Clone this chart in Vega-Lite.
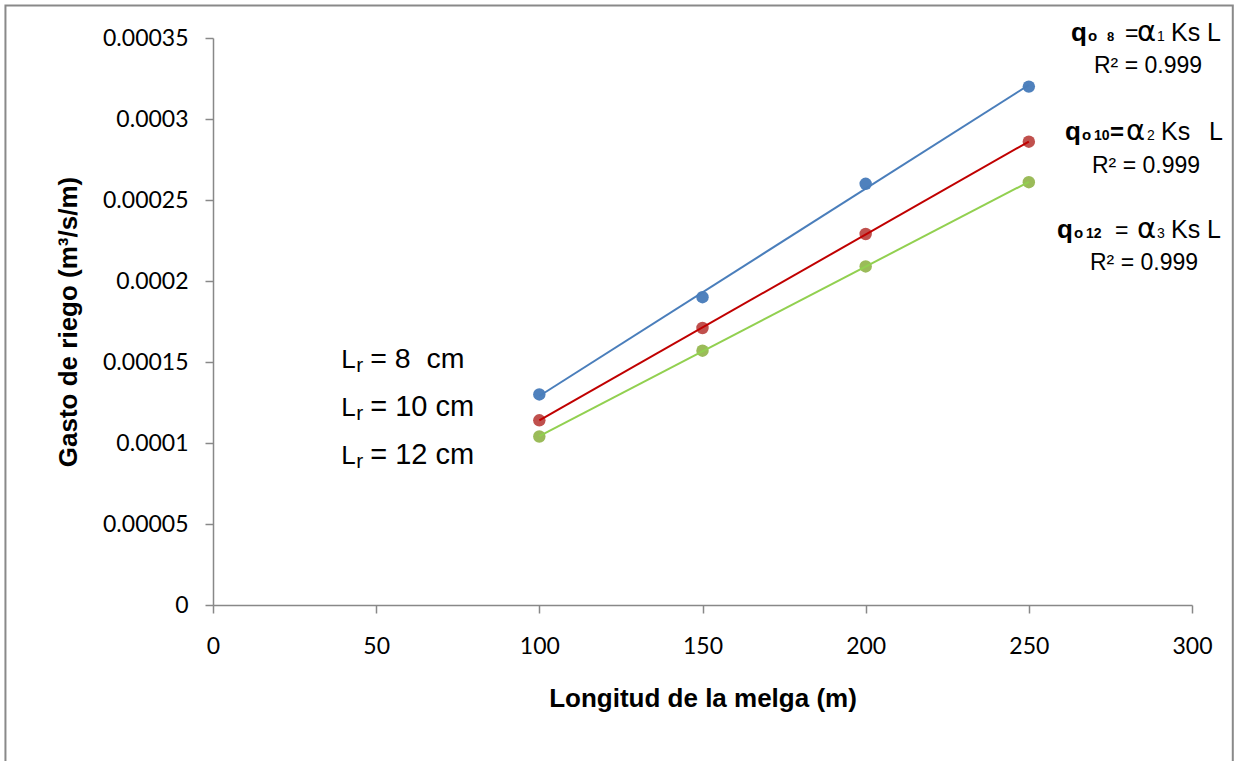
{
  "$schema": "https://vega.github.io/schema/vega-lite/v6.json",
  "width": 979,
  "height": 567,
  "autosize": "none",
  "padding": {"left": 213, "top": 38, "right": 43, "bottom": 156},
  "background": "white",
  "config": {
    "view": {"stroke": null},
    "axis": {
      "grid": false,
      "domainColor": "#888888",
      "domainWidth": 1.5,
      "tickColor": "#888888",
      "tickWidth": 1.5,
      "tickSize": 8,
      "labelFont": "Lato",
      "labelFontSize": 23,
      "labelColor": "#000000",
      "labelFlush": false,
      "labelBound": false,
      "labelOverlap": false,
      "titleFont": "Liberation Sans",
      "titleFontSize": 26,
      "titleFontWeight": "bold",
      "titleColor": "#000000",
      "titleBaseline": "alphabetic"
    }
  },
  "datasets": {
    "obs": [
      {"lr": "8", "longitud": 100, "gasto": 0.00013},
      {"lr": "8", "longitud": 150, "gasto": 0.00019},
      {"lr": "8", "longitud": 200, "gasto": 0.00026},
      {"lr": "8", "longitud": 250, "gasto": 0.00032},
      {"lr": "10", "longitud": 100, "gasto": 0.000114},
      {"lr": "10", "longitud": 150, "gasto": 0.000171},
      {"lr": "10", "longitud": 200, "gasto": 0.000229},
      {"lr": "10", "longitud": 250, "gasto": 0.000286},
      {"lr": "12", "longitud": 100, "gasto": 0.000104},
      {"lr": "12", "longitud": 150, "gasto": 0.000157},
      {"lr": "12", "longitud": 200, "gasto": 0.000209},
      {"lr": "12", "longitud": 250, "gasto": 0.000261}
    ]
  },
  "layer": [
    {
      "data": {"values": [{"box": "chart area"}]},
      "mark": {"type": "rect", "filled": false, "color": "#898989", "strokeWidth": 2},
      "encoding": {
        "x": {"datum": -63.6, "type": "quantitative"},
        "x2": {"datum": 312.5},
        "y": {"datum": 0.00037, "type": "quantitative"},
        "y2": {"datum": -0.0001}
      }
    },
    {
      "data": {"name": "obs"},
      "mark": {"type": "circle", "size": 155, "opacity": 1},
      "encoding": {
        "x": {"field": "longitud", "type": "quantitative",
          "scale": {"domain": [0, 300], "nice": false, "zero": false},
          "axis": {"values": [0, 50, 100, 150, 200, 250, 300], "title": "Longitud de la melga (m)",
            "labelPadding": 22, "titleX": 489.5, "titleY": 101.5}},
        "y": {"field": "gasto", "type": "quantitative",
          "scale": {"domain": [0, 0.00035], "nice": false, "zero": false},
          "axis": {"values": [0, 0.00005, 0.0001, 0.00015, 0.0002, 0.00025, 0.0003, 0.00035], "format": "~g",
            "title": "Gasto de riego (m³/s/m)", "labelPadding": 17, "titleAngle": -90, "titleX": -137, "titleY": 283.5}},
        "color": {"field": "lr", "type": "nominal",
          "scale": {"domain": ["8", "10", "12"], "range": ["#4F81BD", "#C0504D", "#9BBB59"]}, "legend": null}
      }
    },
    {
      "data": {"name": "obs"},
      "transform": [{"regression": "gasto", "on": "longitud", "groupby": ["lr"]}],
      "mark": {"type": "line", "strokeWidth": 2},
      "encoding": {
        "x": {"field": "longitud", "type": "quantitative"},
        "y": {"field": "gasto", "type": "quantitative"},
        "color": {"field": "lr", "type": "nominal",
          "scale": {"domain": ["8", "10", "12"], "range": ["#4A7EBB", "#C00000", "#92D050"]}, "legend": null}
      }
    },
    {
      "data": {"values": [{"t": "L"}]},
      "mark": {"type": "text", "align": "left", "baseline": "alphabetic", "font": "Liberation Sans", "fontSize": 26, "color": "#000", "dx": -35, "dy": 6},
      "encoding": {"x": {"datum": 50, "type": "quantitative"}, "y": {"datum": 0.00015, "type": "quantitative"}, "text": {"field": "t"}}
    },
    {
      "data": {"values": [{"t": "r"}]},
      "mark": {"type": "text", "align": "left", "baseline": "alphabetic", "font": "Liberation Sans", "fontSize": 21, "color": "#000", "dx": -20, "dy": 10},
      "encoding": {"x": {"datum": 50, "type": "quantitative"}, "y": {"datum": 0.00015, "type": "quantitative"}, "text": {"field": "t"}}
    },
    {
      "data": {"values": [{"t": "= 8\u00a0\u00a0cm"}]},
      "mark": {"type": "text", "align": "left", "baseline": "alphabetic", "font": "Liberation Sans", "fontSize": 28.5, "color": "#000", "dx": -6, "dy": 6},
      "encoding": {"x": {"datum": 50, "type": "quantitative"}, "y": {"datum": 0.00015, "type": "quantitative"}, "text": {"field": "t"}}
    },
    {
      "data": {"values": [{"t": "L"}]},
      "mark": {"type": "text", "align": "left", "baseline": "alphabetic", "font": "Liberation Sans", "fontSize": 26, "color": "#000", "dx": -35, "dy": 54},
      "encoding": {"x": {"datum": 50, "type": "quantitative"}, "y": {"datum": 0.00015, "type": "quantitative"}, "text": {"field": "t"}}
    },
    {
      "data": {"values": [{"t": "r"}]},
      "mark": {"type": "text", "align": "left", "baseline": "alphabetic", "font": "Liberation Sans", "fontSize": 21, "color": "#000", "dx": -20, "dy": 58},
      "encoding": {"x": {"datum": 50, "type": "quantitative"}, "y": {"datum": 0.00015, "type": "quantitative"}, "text": {"field": "t"}}
    },
    {
      "data": {"values": [{"t": "= 10 cm"}]},
      "mark": {"type": "text", "align": "left", "baseline": "alphabetic", "font": "Liberation Sans", "fontSize": 29, "color": "#000", "dx": -6, "dy": 54},
      "encoding": {"x": {"datum": 50, "type": "quantitative"}, "y": {"datum": 0.00015, "type": "quantitative"}, "text": {"field": "t"}}
    },
    {
      "data": {"values": [{"t": "L"}]},
      "mark": {"type": "text", "align": "left", "baseline": "alphabetic", "font": "Liberation Sans", "fontSize": 26, "color": "#000", "dx": -35, "dy": 102},
      "encoding": {"x": {"datum": 50, "type": "quantitative"}, "y": {"datum": 0.00015, "type": "quantitative"}, "text": {"field": "t"}}
    },
    {
      "data": {"values": [{"t": "r"}]},
      "mark": {"type": "text", "align": "left", "baseline": "alphabetic", "font": "Liberation Sans", "fontSize": 21, "color": "#000", "dx": -20, "dy": 106},
      "encoding": {"x": {"datum": 50, "type": "quantitative"}, "y": {"datum": 0.00015, "type": "quantitative"}, "text": {"field": "t"}}
    },
    {
      "data": {"values": [{"t": "= 12 cm"}]},
      "mark": {"type": "text", "align": "left", "baseline": "alphabetic", "font": "Liberation Sans", "fontSize": 29, "color": "#000", "dx": -6, "dy": 102},
      "encoding": {"x": {"datum": 50, "type": "quantitative"}, "y": {"datum": 0.00015, "type": "quantitative"}, "text": {"field": "t"}}
    },

    {"data": {"values": [{"t": "q"}]}, "mark": {"type": "text", "align": "left", "baseline": "alphabetic", "font": "Liberation Sans", "fontSize": 26, "fontWeight": "bold", "color": "#000", "dx": -121, "dy": 3}, "encoding": {"x": {"datum": 300, "type": "quantitative"}, "y": {"datum": 0.00035, "type": "quantitative"}, "text": {"field": "t"}}},
    {"data": {"values": [{"t": "o"}]}, "mark": {"type": "text", "align": "left", "baseline": "alphabetic", "font": "Liberation Sans", "fontSize": 15, "fontWeight": "bold", "color": "#000", "dx": -104, "dy": 3}, "encoding": {"x": {"datum": 300, "type": "quantitative"}, "y": {"datum": 0.00035, "type": "quantitative"}, "text": {"field": "t"}}},
    {"data": {"values": [{"t": "8"}]}, "mark": {"type": "text", "align": "left", "baseline": "alphabetic", "font": "Liberation Sans", "fontSize": 13, "fontWeight": "bold", "color": "#000", "dx": -85, "dy": 3}, "encoding": {"x": {"datum": 300, "type": "quantitative"}, "y": {"datum": 0.00035, "type": "quantitative"}, "text": {"field": "t"}}},
    {"data": {"values": [{"t": "="}]}, "mark": {"type": "text", "align": "left", "baseline": "alphabetic", "font": "Liberation Sans", "fontSize": 23, "color": "#000", "dx": -67, "dy": 3}, "encoding": {"x": {"datum": 300, "type": "quantitative"}, "y": {"datum": 0.00035, "type": "quantitative"}, "text": {"field": "t"}}},
    {"data": {"values": [{"t": "α"}]}, "mark": {"type": "text", "align": "left", "baseline": "alphabetic", "font": "DejaVu Sans", "fontSize": 29, "color": "#000", "dx": -55, "dy": 3}, "encoding": {"x": {"datum": 300, "type": "quantitative"}, "y": {"datum": 0.00035, "type": "quantitative"}, "text": {"field": "t"}}},
    {"data": {"values": [{"t": "1"}]}, "mark": {"type": "text", "align": "left", "baseline": "alphabetic", "font": "Liberation Sans", "fontSize": 14, "color": "#000", "dx": -35, "dy": 3}, "encoding": {"x": {"datum": 300, "type": "quantitative"}, "y": {"datum": 0.00035, "type": "quantitative"}, "text": {"field": "t"}}},
    {"data": {"values": [{"t": "Ks L"}]}, "mark": {"type": "text", "align": "left", "baseline": "alphabetic", "font": "Liberation Sans", "fontSize": 25, "color": "#000", "dx": -21, "dy": 3}, "encoding": {"x": {"datum": 300, "type": "quantitative"}, "y": {"datum": 0.00035, "type": "quantitative"}, "text": {"field": "t"}}},
    {"data": {"values": [{"t": "R² = 0.999"}]}, "mark": {"type": "text", "align": "center", "baseline": "alphabetic", "font": "Liberation Sans", "fontSize": 23, "color": "#000", "dx": -44, "dy": 35}, "encoding": {"x": {"datum": 300, "type": "quantitative"}, "y": {"datum": 0.00035, "type": "quantitative"}, "text": {"field": "t"}}},

    {"data": {"values": [{"t": "q"}]}, "mark": {"type": "text", "align": "left", "baseline": "alphabetic", "font": "Liberation Sans", "fontSize": 26, "fontWeight": "bold", "color": "#000", "dx": -127, "dy": 102}, "encoding": {"x": {"datum": 300, "type": "quantitative"}, "y": {"datum": 0.00035, "type": "quantitative"}, "text": {"field": "t"}}},
    {"data": {"values": [{"t": "o"}]}, "mark": {"type": "text", "align": "left", "baseline": "alphabetic", "font": "Liberation Sans", "fontSize": 15, "fontWeight": "bold", "color": "#000", "dx": -110, "dy": 102}, "encoding": {"x": {"datum": 300, "type": "quantitative"}, "y": {"datum": 0.00035, "type": "quantitative"}, "text": {"field": "t"}}},
    {"data": {"values": [{"t": "10"}]}, "mark": {"type": "text", "align": "left", "baseline": "alphabetic", "font": "Liberation Sans", "fontSize": 14, "fontWeight": "bold", "color": "#000", "dx": -98, "dy": 102}, "encoding": {"x": {"datum": 300, "type": "quantitative"}, "y": {"datum": 0.00035, "type": "quantitative"}, "text": {"field": "t"}}},
    {"data": {"values": [{"t": "="}]}, "mark": {"type": "text", "align": "left", "baseline": "alphabetic", "font": "Liberation Sans", "fontSize": 24, "fontWeight": "bold", "color": "#000", "dx": -82, "dy": 102}, "encoding": {"x": {"datum": 300, "type": "quantitative"}, "y": {"datum": 0.00035, "type": "quantitative"}, "text": {"field": "t"}}},
    {"data": {"values": [{"t": "α"}]}, "mark": {"type": "text", "align": "left", "baseline": "alphabetic", "font": "DejaVu Sans", "fontSize": 29, "color": "#000", "dx": -66, "dy": 102}, "encoding": {"x": {"datum": 300, "type": "quantitative"}, "y": {"datum": 0.00035, "type": "quantitative"}, "text": {"field": "t"}}},
    {"data": {"values": [{"t": "2"}]}, "mark": {"type": "text", "align": "left", "baseline": "alphabetic", "font": "Liberation Sans", "fontSize": 14, "color": "#000", "dx": -45, "dy": 102}, "encoding": {"x": {"datum": 300, "type": "quantitative"}, "y": {"datum": 0.00035, "type": "quantitative"}, "text": {"field": "t"}}},
    {"data": {"values": [{"t": "Ks"}]}, "mark": {"type": "text", "align": "left", "baseline": "alphabetic", "font": "Liberation Sans", "fontSize": 25, "color": "#000", "dx": -31, "dy": 102}, "encoding": {"x": {"datum": 300, "type": "quantitative"}, "y": {"datum": 0.00035, "type": "quantitative"}, "text": {"field": "t"}}},
    {"data": {"values": [{"t": "L"}]}, "mark": {"type": "text", "align": "left", "baseline": "alphabetic", "font": "Liberation Sans", "fontSize": 25, "color": "#000", "dx": 17, "dy": 102}, "encoding": {"x": {"datum": 300, "type": "quantitative"}, "y": {"datum": 0.00035, "type": "quantitative"}, "text": {"field": "t"}}},
    {"data": {"values": [{"t": "R² = 0.999"}]}, "mark": {"type": "text", "align": "center", "baseline": "alphabetic", "font": "Liberation Sans", "fontSize": 23, "color": "#000", "dx": -46, "dy": 135}, "encoding": {"x": {"datum": 300, "type": "quantitative"}, "y": {"datum": 0.00035, "type": "quantitative"}, "text": {"field": "t"}}},

    {"data": {"values": [{"t": "q"}]}, "mark": {"type": "text", "align": "left", "baseline": "alphabetic", "font": "Liberation Sans", "fontSize": 26, "fontWeight": "bold", "color": "#000", "dx": -135, "dy": 200}, "encoding": {"x": {"datum": 300, "type": "quantitative"}, "y": {"datum": 0.00035, "type": "quantitative"}, "text": {"field": "t"}}},
    {"data": {"values": [{"t": "o"}]}, "mark": {"type": "text", "align": "left", "baseline": "alphabetic", "font": "Liberation Sans", "fontSize": 15, "fontWeight": "bold", "color": "#000", "dx": -118, "dy": 200}, "encoding": {"x": {"datum": 300, "type": "quantitative"}, "y": {"datum": 0.00035, "type": "quantitative"}, "text": {"field": "t"}}},
    {"data": {"values": [{"t": "12"}]}, "mark": {"type": "text", "align": "left", "baseline": "alphabetic", "font": "Liberation Sans", "fontSize": 14, "fontWeight": "bold", "color": "#000", "dx": -106, "dy": 200}, "encoding": {"x": {"datum": 300, "type": "quantitative"}, "y": {"datum": 0.00035, "type": "quantitative"}, "text": {"field": "t"}}},
    {"data": {"values": [{"t": "="}]}, "mark": {"type": "text", "align": "left", "baseline": "alphabetic", "font": "Liberation Sans", "fontSize": 23, "color": "#000", "dx": -77, "dy": 200}, "encoding": {"x": {"datum": 300, "type": "quantitative"}, "y": {"datum": 0.00035, "type": "quantitative"}, "text": {"field": "t"}}},
    {"data": {"values": [{"t": "α"}]}, "mark": {"type": "text", "align": "left", "baseline": "alphabetic", "font": "DejaVu Sans", "fontSize": 29, "color": "#000", "dx": -55, "dy": 200}, "encoding": {"x": {"datum": 300, "type": "quantitative"}, "y": {"datum": 0.00035, "type": "quantitative"}, "text": {"field": "t"}}},
    {"data": {"values": [{"t": "3"}]}, "mark": {"type": "text", "align": "left", "baseline": "alphabetic", "font": "Liberation Sans", "fontSize": 14, "color": "#000", "dx": -35, "dy": 200}, "encoding": {"x": {"datum": 300, "type": "quantitative"}, "y": {"datum": 0.00035, "type": "quantitative"}, "text": {"field": "t"}}},
    {"data": {"values": [{"t": "Ks L"}]}, "mark": {"type": "text", "align": "left", "baseline": "alphabetic", "font": "Liberation Sans", "fontSize": 25, "color": "#000", "dx": -21, "dy": 200}, "encoding": {"x": {"datum": 300, "type": "quantitative"}, "y": {"datum": 0.00035, "type": "quantitative"}, "text": {"field": "t"}}},
    {"data": {"values": [{"t": "R² = 0.999"}]}, "mark": {"type": "text", "align": "center", "baseline": "alphabetic", "font": "Liberation Sans", "fontSize": 23, "color": "#000", "dx": -48, "dy": 232}, "encoding": {"x": {"datum": 300, "type": "quantitative"}, "y": {"datum": 0.00035, "type": "quantitative"}, "text": {"field": "t"}}}
  ],
  "resolve": {"scale": {"color": "independent"}}
}
